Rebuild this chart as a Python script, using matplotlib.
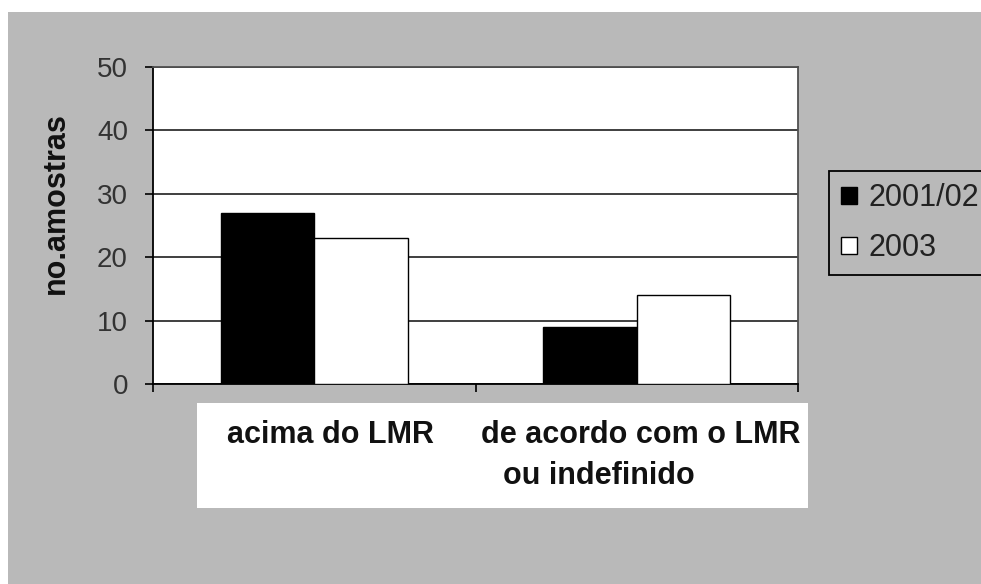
import matplotlib
matplotlib.use("Agg")
import matplotlib.pyplot as plt
from matplotlib.patches import Rectangle, Patch
import numpy as np

# Data
categories = ["acima do LMR", "de acordo com o LMR\nou indefinido"]
series_names = ["2001/02", "2003"]
values_2001 = [27, 9]
values_2003 = [23, 14]
y_ticks = [0, 10, 20, 30, 40, 50]

W, H = 981, 584
bg = "#b9b9b9"

plt.rcParams["font.family"] = ["Liberation Sans", "DejaVu Sans"]

fig = plt.figure(figsize=(W / 100, H / 100), dpi=100, facecolor="white")

# gray chart area (small white margin top/left)
fig.patches.append(Rectangle((8 / W, 0), 1, (H - 12) / H,
                             transform=fig.transFigure, facecolor=bg,
                             edgecolor="none", zorder=-2))

# white box behind the category labels
fig.patches.append(Rectangle((197 / W, 1 - 508 / H), (808 - 197) / W, (508 - 403) / H,
                             transform=fig.transFigure, facecolor="white",
                             edgecolor="none", zorder=-1))

ax = fig.add_axes([153 / W, 1 - 384 / H, (798 - 153) / W, (384 - 67) / H])
ax.set_facecolor("white")

x = np.arange(len(categories))
width = 0.29
ax.bar(x - width / 2, values_2001, width, color="black", edgecolor="black",
       linewidth=1, zorder=3)
ax.bar(x + width / 2, values_2003, width, color="white", edgecolor="black",
       linewidth=1, zorder=3)

ax.set_xlim(-0.5, len(categories) - 0.5)
ax.set_ylim(0, 50)
ax.set_yticks(y_ticks)
ax.set_yticklabels([str(v) for v in y_ticks])
ax.tick_params(axis="y", direction="out", length=6, width=1.2, pad=12,
               labelsize=20, labelcolor="#333333", color="black")

# category boundaries as x ticks, no labels on the axis itself
ax.set_xticks(np.arange(-0.5, len(categories), 1.0))
ax.set_xticklabels([])
ax.tick_params(axis="x", direction="out", length=6, width=1.2, color="black")

ax.yaxis.grid(True, color="#303030", linewidth=1.3, zorder=1)
ax.set_axisbelow(True)

for side in ["left", "bottom"]:
    ax.spines[side].set_color("black")
    ax.spines[side].set_linewidth(1.3)
for side in ["top", "right"]:
    ax.spines[side].set_color("#505050")
    ax.spines[side].set_linewidth(1.3)

# y label
fig.text(56 / W, 1 - 203 / H, "no.amostras", rotation=90, ha="center",
         va="center", fontsize=22, fontweight="bold", color="#111111")

# category labels (placed in the white box under the axis)
label_pos = [[(227, 443)], [(481, 443), (503, 484)]]
for cat, pos in zip(categories, label_pos):
    for line, (px, py) in zip(cat.split("\n"), pos):
        fig.text(px / W, 1 - py / H, line, ha="left", va="baseline",
                 fontsize=22, fontweight="bold", color="#111111")

# legend
handles = [Patch(facecolor="black", edgecolor="black"),
           Patch(facecolor="white", edgecolor="black")]
leg = fig.legend(handles, series_names, loc="upper left",
                 bbox_to_anchor=(829 / W, 1 - 171 / H), borderaxespad=0,
                 fontsize=22, frameon=True, fancybox=False, framealpha=1,
                 facecolor=bg, edgecolor="black", handlelength=0.5,
                 handleheight=0.5, handletextpad=0.4, borderpad=0.4,
                 labelspacing=0.65)
leg.get_frame().set_linewidth(1.3)
for t in leg.get_texts():
    t.set_color("#222222")

fig.savefig("out.png", dpi=100, facecolor=fig.get_facecolor())
